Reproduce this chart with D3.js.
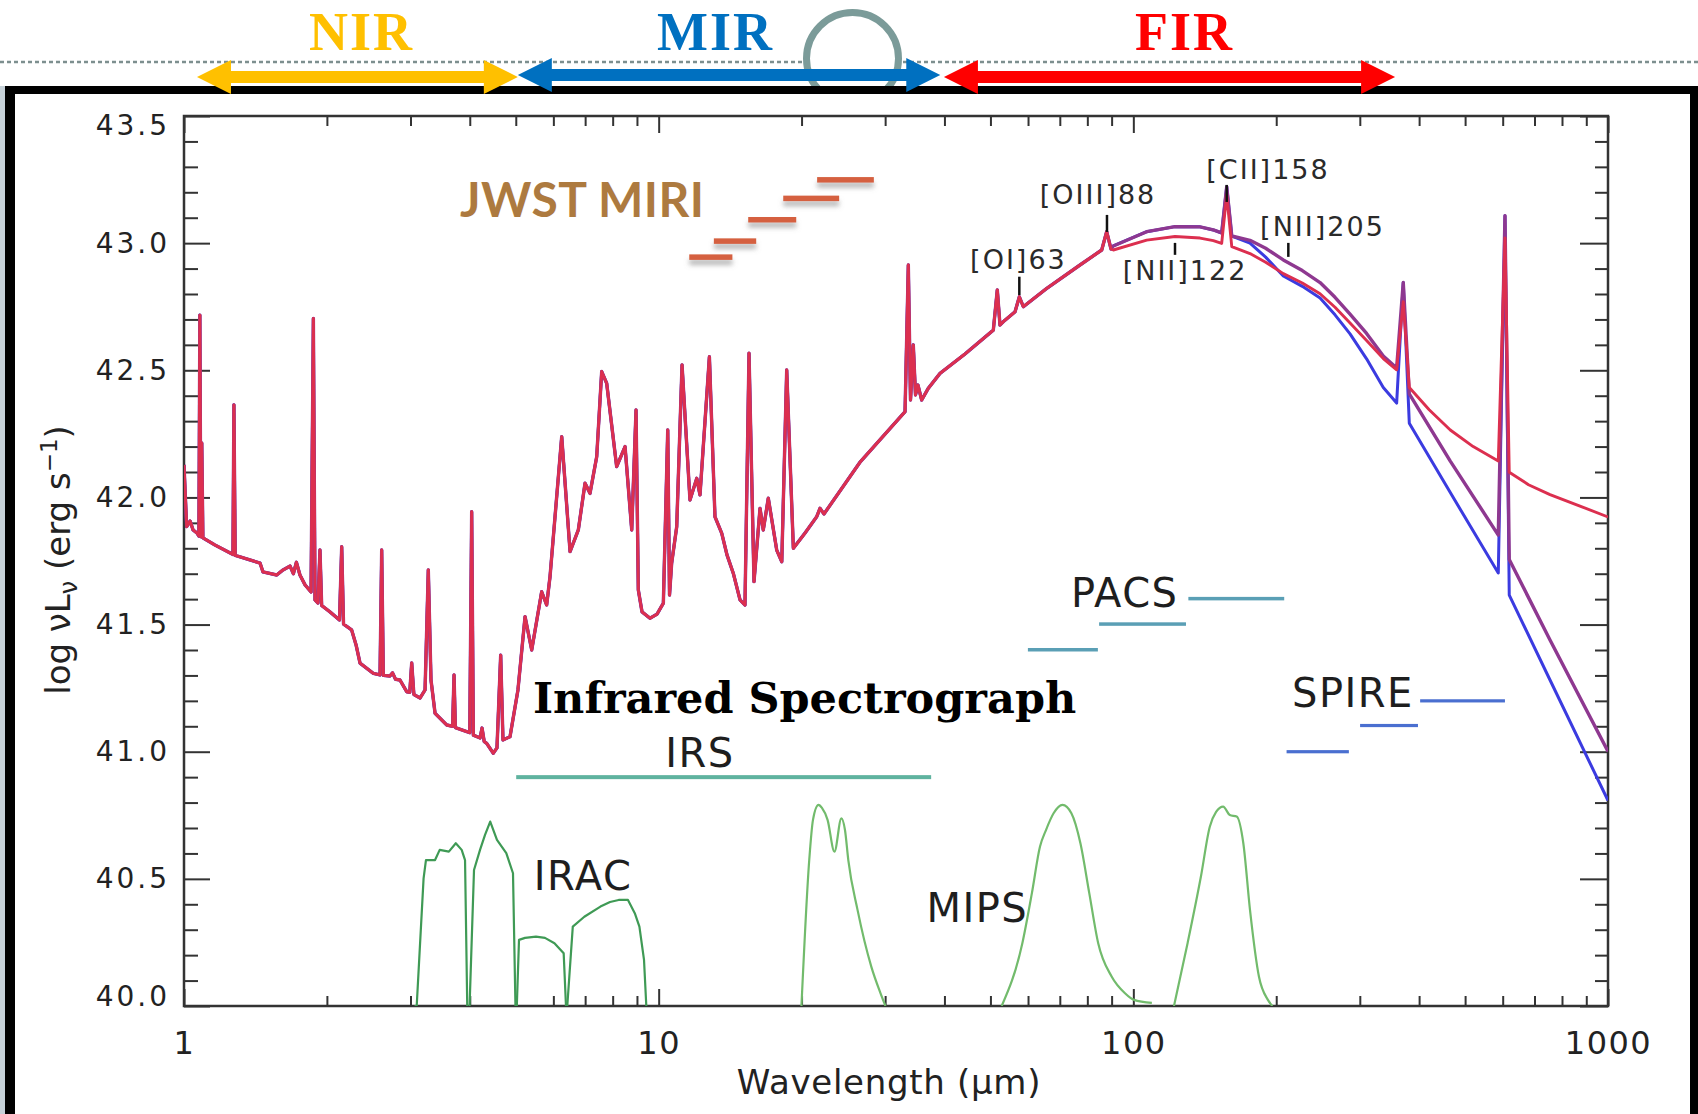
<!DOCTYPE html>
<html><head><meta charset="utf-8">
<script src="https://cdn.jsdelivr.net/npm/d3@7"></script>
<style>
html,body{margin:0;padding:0;background:#fff;}
svg{display:block;}
</style></head>
<body>
<svg id="chart" width="1698" height="1114"></svg>
<script>
// ---------------- DATA ----------------
const xTickValues = [1, 10, 100, 1000];
const xTickLabels = ["1", "10", "100", "1000"];
const xMinorTicks = [2,3,4,5,6,7,8,9,20,30,40,50,60,70,80,90,200,300,400,500,600,700,800,900];
const yTickValues = [40.0, 40.5, 41.0, 41.5, 42.0, 42.5, 43.0, 43.5];
const yTickLabels = ["40.0", "40.5", "41.0", "41.5", "42.0", "42.5", "43.0", "43.5"];
const yMinorTicks = [40.1,40.2,40.3,40.4,40.6,40.7,40.8,40.9,41.1,41.2,41.3,41.4,41.6,41.7,41.8,41.9,42.1,42.2,42.3,42.4,42.6,42.7,42.8,42.9,43.1,43.2,43.3,43.4];

// spectrum common to all three models: [wavelength (µm), log nuL_nu]
const sharedSpectrum = [
 [1.000,42.128],[1.013,41.885],[1.030,41.907],[1.045,41.872],[1.065,41.860],[1.075,41.848],
 [1.080,42.717],[1.085,41.845],[1.090,42.214],[1.096,41.841],[1.162,41.813],[1.268,41.776],
 [1.274,42.364],[1.282,41.772],[1.377,41.754],[1.446,41.742],[1.467,41.707],[1.568,41.695],
 [1.617,41.715],[1.673,41.730],[1.700,41.700],[1.725,41.745],[1.755,41.695],[1.799,41.656],
 [1.852,41.628],[1.873,42.704],[1.888,41.597],[1.915,41.585],[1.934,41.793],[1.950,41.575],
 [2.030,41.550],[2.126,41.518],[2.149,41.806],[2.168,41.502],[2.255,41.479],[2.304,41.420],
 [2.349,41.348],[2.505,41.308],[2.588,41.302],[2.609,41.793],[2.630,41.300],[2.716,41.298],
 [2.750,41.310],[2.790,41.285],[2.851,41.282],[2.946,41.236],[2.990,41.234],[3.018,41.349],
 [3.050,41.225],[3.142,41.211],[3.220,41.243],[3.271,41.715],[3.314,41.282],[3.380,41.151],
 [3.577,41.105],[3.680,41.100],[3.706,41.302],[3.730,41.095],[3.941,41.079],[4.000,41.075],
 [4.037,41.944],[4.070,41.065],[4.204,41.054],[4.245,41.093],[4.290,41.040],[4.342,41.033],
 [4.483,40.994],[4.564,41.015],[4.647,41.380],[4.699,41.046],[4.862,41.059],[5.053,41.243],
 [5.230,41.531],[5.402,41.400],[5.669,41.629],[5.808,41.577],[5.903,41.688],[6.248,42.239],
 [6.506,41.787],[6.772,41.872],[6.996,42.056],[7.167,42.016],[7.404,42.160],[7.585,42.495],
 [7.771,42.449],[8.156,42.121],[8.495,42.200],[8.775,41.872],[8.960,42.344],[9.060,41.636],
 [9.224,41.550],[9.587,41.525],[9.920,41.541],[10.23,41.584],[10.45,42.265],[10.54,41.616],
 [10.65,41.741],[10.915,41.885],[11.20,42.521],[11.64,41.990],[12.03,42.075],[12.22,42.010],
 [12.79,42.553],[13.14,41.924],[13.58,41.859],[13.93,41.774],[14.36,41.702],[14.84,41.597],
 [15.20,41.577],[15.50,42.567],[15.88,41.669],[16.35,41.957],[16.61,41.872],[17.02,41.997],
 [17.73,41.793],[18.17,41.747],[18.61,42.501],[19.22,41.800],[20.34,41.860],[21.52,41.924],
 [21.87,41.957],[22.30,41.935],[26.57,42.139],[33.04,42.337],[33.57,42.914],[33.93,42.383],
 [34.39,42.600],[34.76,42.403],[35.18,42.442],[35.82,42.383],[36.98,42.429],[39.15,42.488],
 [44.19,42.564],[50.70,42.658],[51.69,42.816],[52.37,42.678],[53.21,42.691],[56.33,42.730],
 [57.52,42.789],[58.65,42.750],[65.70,42.822],[77.20,42.914],[85.78,42.973],[87.87,43.045],
 [89.74,42.977]
];
// far-IR continuation of each model (starts at the last shared point)
const blueTail = [
 [89.74,42.977],[90.75,42.989],[106.7,43.045],[122.4,43.065],[138.2,43.064],[147.4,43.052],[153.5,43.040],
 [157.3,43.222],[161.2,43.028],[176.1,43.000],[190.0,42.945],[207.0,42.871],[227.0,42.830],[247.4,42.784],
 [266.0,42.718],[286.1,42.643],[310.0,42.545],[336.2,42.432],[358.7,42.371],[370.4,42.845],[381.4,42.292],
 [465.3,42.019],[587.3,41.703],[606.7,43.108],[619.4,41.616],[754.8,41.282],[1000,40.808]
];
const purpleTail = [
 [89.74,42.977],[90.75,42.989],[106.7,43.045],[122.4,43.065],[138.2,43.064],[147.4,43.052],[153.5,43.040],
 [157.3,43.222],[161.2,43.028],[176.1,43.011],[190.0,42.980],[207.0,42.934],[227.0,42.892],[247.4,42.845],
 [266.0,42.787],[286.1,42.721],[310.0,42.645],[336.2,42.556],[358.7,42.509],[370.4,42.845],[381.4,42.407],
 [465.3,42.143],[587.3,41.852],[606.7,43.108],[619.4,41.756],[754.8,41.439],[1000,41.001]
];
const redTail = [
 [89.74,42.977],[90.75,42.973],[106.7,43.012],[122.4,43.026],[138.2,43.020],[147.4,43.010],[153.5,42.999],
 [157.3,43.190],[161.2,42.986],[176.1,42.959],[190.0,42.925],[207.0,42.880],[227.0,42.843],[247.4,42.801],
 [266.0,42.748],[286.1,42.686],[310.0,42.617],[336.2,42.546],[358.7,42.502],[370.4,42.770],[381.4,42.432],
 [420.0,42.345],[465.3,42.265],[520.0,42.200],[587.3,42.143],[606.7,43.020],[619.4,42.099],[680.0,42.050],
 [754.8,42.011],[873.0,41.966],[1000,41.923]
];

// filter transmission curves drawn in plot units
const iracFilters = [
 [[3.060,40.0],[3.092,40.0],[3.197,40.502],[3.234,40.574],[3.380,40.574],[3.457,40.614],[3.614,40.607],[3.738,40.640],[3.846,40.614],[3.909,40.574],[3.951,40.0]],
 [[3.996,40.0],[4.083,40.535],[4.204,40.614],[4.307,40.673],[4.417,40.725],[4.564,40.653],[4.775,40.601],[4.933,40.522],[4.992,40.0]],
 [[5.025,40.0],[5.079,40.260],[5.230,40.268],[5.515,40.273],[5.761,40.268],[6.032,40.247],[6.308,40.207],[6.379,40.0]],
 [[6.419,40.0],[6.593,40.312],[6.972,40.351],[7.539,40.391],[7.898,40.409],[8.237,40.417],[8.617,40.417],[8.906,40.365],[9.108,40.312],[9.314,40.181],[9.418,40.0]]
];
const mipsFilters = [
 [[19.99,40.0],[20.76,40.574],[21.14,40.732],[21.71,40.791],[22.08,40.779],[22.69,40.732],[23.46,40.607],[24.26,40.738],[24.69,40.692],[25.09,40.574],[26.24,40.378],[28.05,40.155],[29.34,40.050],[30.05,40.0]],
 [[52.8,40.0],[58.37,40.247],[61.15,40.445],[63.59,40.627],[65.46,40.692],[67.92,40.758],[70.92,40.791],[74.05,40.758],[77.36,40.640],[80.77,40.443],[84.33,40.247],[90.00,40.116],[96.03,40.050],[100.3,40.024],[109.4,40.012]],
 [[121.8,40.0],[130.1,40.247],[138.8,40.509],[144.9,40.705],[149.4,40.763],[154.6,40.784],[159.7,40.751],[165.1,40.745],[170.5,40.640],[176.1,40.378],[183.9,40.116],[192.1,40.024],[196.3,40.0]]
];

// instrument coverage bars: [start µm, end µm, level]
const irsBands = [[5.01, 37.5, 40.9]];
const pacsBands = [[59.96, 84.2, 41.401], [84.7, 129.1, 41.502], [130.6, 207.9, 41.602]];
const spireBands = [[210.3, 284.5, 41.0], [300.4, 397.8, 41.103], [402.0, 606.6, 41.2]];
const miriBands = [[11.6, 14.3, 42.945], [13.07, 16.05, 43.008], [15.44, 19.49, 43.092], [18.3, 24.0, 43.176], [21.57, 28.4, 43.249]];

// emission line markers: name, wavelength of tick, tick bottom/top, label anchor
const lineNames = ["[OI]63", "[OIII]88", "[NII]122", "[CII]158", "[NII]205"];
const lineTickLam = [57.52, 88.0, 122.4, 157.3, 212.1];
const lineTickLow = [42.796, 43.044, 42.954, 43.162, 42.946];
const lineTickHigh = [42.868, 43.111, 43.001, 43.229, 43.001];
const lineLabelLam = [57.27, 84.25, 128.5, 192.2, 250.3];
const lineLabelLevel = [42.898, 43.154, 42.855, 43.252, 43.028];

// instrument labels: text, anchor wavelength, anchor level
const instrumentNames = ["IRS", "IRAC", "MIPS", "PACS", "SPIRE"];
const instrumentLam = [12.22, 5.457, 36.65, 73.9, 215.9];
const instrumentLevel = [40.941, 40.456, 40.332, 41.570, 41.177];

// wavelength regimes shown above the plot
const regionNames = ["NIR", "MIR", "FIR"];
const regionRanges = [[1.065, 5.05], [5.05, 39.2], [39.9, 356]];
const regionLabelLam = [2.366, 13.17, 128.2];

// ---------------- LAYOUT ----------------
const W = 1698, H = 1114;
const M = {left: 184, right: 1608, top: 116, bottom: 1006};
const svg = d3.select("#chart");
const x = d3.scaleLog().domain([1, 1000]).range([M.left, M.right]);
const y = d3.scaleLinear().domain([40, 43.5]).range([M.bottom, M.top]);

const defs = svg.append("defs");
defs.append("clipPath").attr("id", "plotclip").append("rect")
  .attr("x", M.left).attr("y", M.top).attr("width", M.right - M.left).attr("height", M.bottom - M.top);
const sh = defs.append("filter").attr("id", "shadow").attr("filterUnits", "userSpaceOnUse")
  .attr("x", 0).attr("y", 0).attr("width", W).attr("height", H);
sh.append("feDropShadow").attr("dx", 0).attr("dy", 5).attr("stdDeviation", 2.5).attr("flood-color", "#777").attr("flood-opacity", 0.55);

svg.append("rect").attr("width", W).attr("height", H).attr("fill", "#fff");

// dashed guide line and ring above the plot
svg.append("line").attr("x1", 0).attr("x2", W).attr("y1", 62).attr("y2", 62)
  .attr("stroke", "#7d8f8f").attr("stroke-width", 2.5).attr("stroke-dasharray", "4 3");
svg.append("circle").attr("cx", 852.5).attr("cy", 58.5).attr("r", 46)
  .attr("fill", "#fff").attr("stroke", "#7b9b99").attr("stroke-width", 7);

// slide panel with black border
svg.append("rect").attr("x", 0).attr("y", 86).attr("width", 5).attr("height", H - 86).attr("fill", "#c6d1d8");
svg.append("rect").attr("x", 5).attr("y", 86).attr("width", W - 5).attr("height", H - 86).attr("fill", "#000");
svg.append("rect").attr("x", 15).attr("y", 94).attr("width", 1675).attr("height", H - 94).attr("fill", "#fff");

// region arrows
const regionColors = ["#FFC000", "#0070C0", "#FF0000"];
const regionCY = [77, 75, 77];
regionRanges.forEach((r, i) => {
  const x0 = x(r[0]), x1 = x(r[1]), cy = regionCY[i], hl = 34, hh = 17, s = 6;
  const p = `M${x0},${cy} L${x0+hl},${cy-hh} L${x0+hl},${cy-s} L${x1-hl},${cy-s} L${x1-hl},${cy-hh} L${x1},${cy} L${x1-hl},${cy+hh} L${x1-hl},${cy+s} L${x0+hl},${cy+s} L${x0+hl},${cy+hh} Z`;
  svg.append("path").attr("d", p).attr("fill", regionColors[i]);
  svg.append("text").attr("x", x(regionLabelLam[i])).attr("y", 50)
    .attr("text-anchor", "middle").attr("fill", regionColors[i])
    .style("font-family", "Liberation Serif").style("font-weight", "bold").style("font-size", "54px")
    .style("letter-spacing", "2px")
    .text(regionNames[i]);
});

// ---------------- AXES ----------------
const axisColor = "#333";
function styleAxis(g) {
  g.select(".domain").remove();
  g.selectAll(".tick line").attr("stroke", axisColor).attr("stroke-width", 2);
}
// bottom
svg.append("g").attr("transform", `translate(0,${M.bottom})`)
  .call(d3.axisBottom(x).tickValues(xMinorTicks).tickSize(-10).tickFormat("")).call(styleAxis);
const gxb = svg.append("g").attr("transform", `translate(0,${M.bottom})`)
  .call(d3.axisBottom(x).tickValues(xTickValues).tickSize(-17).tickPadding(25).tickFormat((d, i) => xTickLabels[i]))
  .call(styleAxis);
gxb.selectAll("text").attr("fill", "#222").style("font-family", "DejaVu Sans").style("font-size", "32px").style("letter-spacing", "1.5px");
// top
svg.append("g").attr("transform", `translate(0,${M.top})`)
  .call(d3.axisTop(x).tickValues(xMinorTicks).tickSize(-10).tickFormat("")).call(styleAxis);
svg.append("g").attr("transform", `translate(0,${M.top})`)
  .call(d3.axisTop(x).tickValues(xTickValues).tickSize(-17).tickFormat("")).call(styleAxis);
// left
svg.append("g").attr("transform", `translate(${M.left},0)`)
  .call(d3.axisLeft(y).tickValues(yMinorTicks).tickSize(-14).tickFormat("")).call(styleAxis);
const gyl = svg.append("g").attr("transform", `translate(${M.left},0)`)
  .call(d3.axisLeft(y).tickValues(yTickValues).tickSize(-26).tickPadding(14).tickFormat((d, i) => yTickLabels[i]))
  .call(styleAxis);
gyl.selectAll("text").attr("fill", "#222").style("font-family", "DejaVu Sans").style("font-size", "28px").style("letter-spacing", "3px")
  .attr("transform", d => d === 43.5 ? "translate(0,10)" : (d === 40.0 ? "translate(0,-9)" : null));
// right
svg.append("g").attr("transform", `translate(${M.right},0)`)
  .call(d3.axisRight(y).tickValues(yMinorTicks).tickSize(-13).tickFormat("")).call(styleAxis);
svg.append("g").attr("transform", `translate(${M.right},0)`)
  .call(d3.axisRight(y).tickValues(yTickValues).tickSize(-28).tickFormat("")).call(styleAxis);
// frame
svg.append("rect").attr("x", M.left).attr("y", M.top).attr("width", M.right - M.left).attr("height", M.bottom - M.top)
  .attr("fill", "none").attr("stroke", axisColor).attr("stroke-width", 2.5);

// axis titles
svg.append("text").attr("x", 889).attr("y", 1094).attr("text-anchor", "middle").attr("fill", "#222")
  .style("font-family", "DejaVu Sans").style("font-size", "34px").style("letter-spacing", "0.7px")
  .text("Wavelength (µm)");
const yl = svg.append("text").attr("transform", "translate(70,560) rotate(-90)").attr("text-anchor", "middle")
  .attr("fill", "#222").style("font-family", "DejaVu Sans").style("font-size", "34px");
yl.append("tspan").text("log νL");
yl.append("tspan").attr("dy", 7).style("font-size", "24px").text("ν");
yl.append("tspan").attr("dy", -7).text(" (erg s");
yl.append("tspan").attr("dy", -13).style("font-size", "23px").text("−1");
yl.append("tspan").attr("dy", 13).text(")");

// ---------------- MARKS ----------------
const plot = svg.append("g").attr("clip-path", "url(#plotclip)");
const line = d3.line().x(d => x(d[0])).y(d => y(d[1]));
const smoothLine = d3.line().x(d => x(d[0])).y(d => y(d[1])).curve(d3.curveMonotoneX);

// filter curves
iracFilters.forEach(f => plot.append("path").attr("d", line(f)).attr("fill", "none")
  .attr("stroke", "#3f9a55").attr("stroke-width", 2.2).attr("stroke-linejoin", "round"));
mipsFilters.forEach(f => plot.append("path").attr("d", smoothLine(f)).attr("fill", "none")
  .attr("stroke", "#72bb6c").attr("stroke-width", 2.2).attr("stroke-linejoin", "round"));

// spectra
const series = [
  {tail: blueTail, color: "#3b3be0", w: 3.0},
  {tail: purpleTail, color: "#8e3890", w: 3.4},
  {tail: redTail, color: "#dc2f4f", w: 2.9}
];
series.forEach(s => {
  plot.append("path").attr("d", line(sharedSpectrum.concat(s.tail.slice(1)))).attr("fill", "none")
    .attr("stroke", s.color).attr("stroke-width", s.w).attr("stroke-linejoin", "round");
});

// instrument bars
function bars(arr, color, w, filt) {
  arr.forEach(b => {
    const r = svg.append("rect").attr("x", x(b[0])).attr("width", x(b[1]) - x(b[0]))
      .attr("y", y(b[2]) - w / 2).attr("height", w).attr("fill", color);
    if (filt) r.attr("filter", filt);
  });
}
bars(irsBands, "#5fb39f", 4);
bars(pacsBands, "#5a9fb5", 3.5);
bars(spireBands, "#4a6fd0", 3.2);
bars(miriBands, "#d5603f", 5.5, "url(#shadow)");

// emission line ticks and labels
lineNames.forEach((n, i) => {
  svg.append("line").attr("x1", x(lineTickLam[i])).attr("x2", x(lineTickLam[i]))
    .attr("y1", y(lineTickLow[i])).attr("y2", y(lineTickHigh[i])).attr("stroke", "#111").attr("stroke-width", 2.5);
  svg.append("text").attr("x", x(lineLabelLam[i])).attr("y", y(lineLabelLevel[i])).attr("text-anchor", "middle")
    .attr("fill", "#2a2a2a").style("font-family", "DejaVu Sans").style("font-size", "27px").style("letter-spacing", "2px")
    .text(n);
});

// instrument labels
instrumentNames.forEach((n, i) => {
  svg.append("text").attr("x", x(instrumentLam[i])).attr("y", y(instrumentLevel[i]))
    .attr("text-anchor", i === 0 ? "middle" : "start")
    .attr("fill", "#1e1e1e").style("font-family", "DejaVu Sans").style("font-size", "40px").style("letter-spacing", "1.5px")
    .text(n);
});

svg.append("text").attr("x", x(5.436)).attr("y", y(41.151)).attr("fill", "#000")
  .style("font-family", "DejaVu Serif").style("font-weight", "bold").style("font-size", "43px")
  .text("Infrared Spectrograph");
svg.append("text").attr("x", x(3.815)).attr("y", y(43.103)).attr("fill", "#ad7a3f")
  .attr("textLength", 244).attr("lengthAdjust", "spacing")
  .style("font-family", "Lato").style("font-weight", "bold").style("font-size", "48px")
  .text("JWST MIRI");
</script>
</body></html>
